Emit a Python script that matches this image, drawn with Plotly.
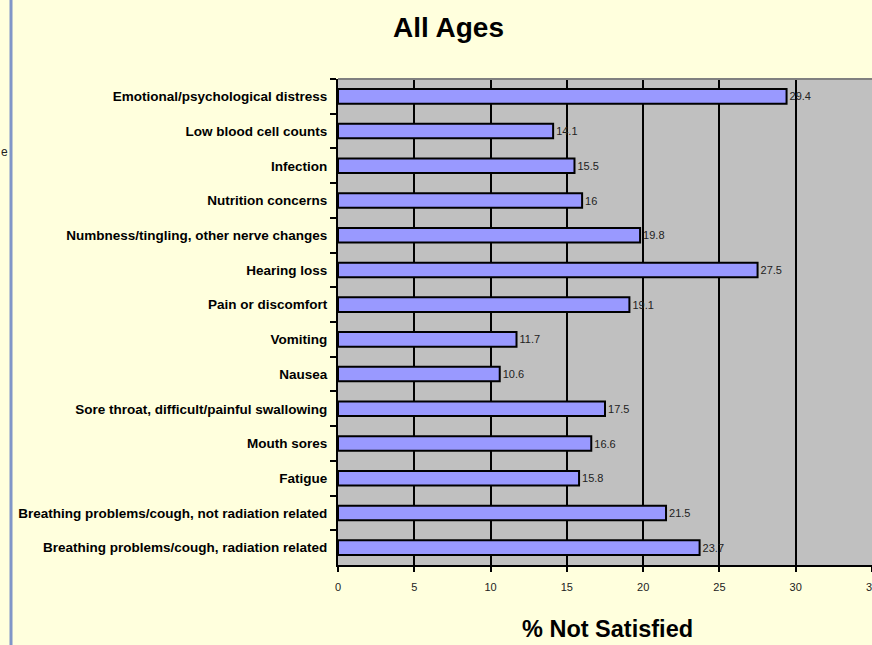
import plotly.graph_objects as go

categories = [
    "Emotional/psychological distress",
    "Low blood cell counts",
    "Infection",
    "Nutrition concerns",
    "Numbness/tingling, other nerve changes",
    "Hearing loss",
    "Pain or discomfort",
    "Vomiting",
    "Nausea",
    "Sore throat, difficult/painful swallowing",
    "Mouth sores",
    "Fatigue",
    "Breathing problems/cough, not radiation related",
    "Breathing problems/cough, radiation related",
]
values = [29.4, 14.1, 15.5, 16, 19.8, 27.5, 19.1, 11.7, 10.6, 17.5, 16.6, 15.8, 21.5, 23.7]
value_labels = ["29.4", "14.1", "15.5", "16", "19.8", "27.5", "19.1", "11.7", "10.6",
                "17.5", "16.6", "15.8", "21.5", "23.7"]
x_ticks = [0, 5, 10, 15, 20, 25, 30, 35]

W, H = 872, 645
L, R, T, B = 338, 0, 79, 80
pw = W - L - R
ph = H - T - B

def px_x(p):
    return (p - L) / pw

def px_y(p):
    return 1 - (p - T) / ph

FONT = "Liberation Sans, Arial, sans-serif"

fig = go.Figure(go.Bar(
    x=values,
    y=categories,
    orientation="h",
    marker=dict(color="#9999FF", line=dict(color="#000000", width=2)),
    text=value_labels,
    textposition="outside",
    textfont=dict(family=FONT, size=11, color="#222222"),
    cliponaxis=False,
    width=0.42,
))

fig.update_layout(
    width=W, height=H,
    margin=dict(l=L, r=R, t=T, b=B, autoexpand=False),
    paper_bgcolor="#FFFFDD",
    plot_bgcolor="#C0C0C0",
    showlegend=False,
    font=dict(family=FONT, color="#000000"),
    xaxis=dict(
        range=[0, 35],
        tickvals=x_ticks,
        ticktext=[str(v) for v in x_ticks],
        showgrid=True, gridcolor="#000000", gridwidth=1.5,
        zeroline=False,
        showline=True, linecolor="#000000", linewidth=2,
        ticks="outside", ticklen=5, tickwidth=2, tickcolor="#000000",
        tickfont=dict(family=FONT, size=11, color="#222222"),
        ticklabelstandoff=6,
        ticklabeloverflow="allow",
        automargin=False,
        fixedrange=True,
    ),
    yaxis=dict(
        autorange="reversed",
        showgrid=False,
        showline=True, linecolor="#000000", linewidth=2,
        ticks="outside", ticklen=6, tickwidth=2, tickcolor="#000000",
        tickson="boundaries",
        tickfont=dict(family=FONT, size=13.5, color="#000000", weight="bold"),
        ticklabelstandoff=6,
        automargin=False,
        fixedrange=True,
    ),
    shapes=[
        dict(type="line", xref="paper", yref="paper",
             x0=0, x1=1, y0=1, y1=1,
             line=dict(color="#808080", width=2)),
        dict(type="line", xref="paper", yref="paper",
             x0=px_x(11), x1=px_x(11), y0=px_y(0), y1=px_y(H),
             line=dict(color="#8096C8", width=3)),
    ],
    annotations=[
        dict(text="All Ages", xref="paper", yref="paper",
             x=px_x(448), y=px_y(27), showarrow=False,
             font=dict(family=FONT, size=28, color="#000000", weight="bold"),
             xanchor="center", yanchor="middle"),
        dict(text="% Not Satisfied", xref="paper", yref="paper",
             x=px_x(607), y=px_y(629), showarrow=False,
             font=dict(family=FONT, size=23.5, color="#000000", weight="bold"),
             xanchor="center", yanchor="middle"),
        dict(text="e", xref="paper", yref="paper",
             x=px_x(-1), y=px_y(152), showarrow=False,
             font=dict(family=FONT, size=12, color="#222222"),
             xanchor="left", yanchor="middle"),
    ],
)

fig.write_html(
    "out.html",
    config={"displayModeBar": False},
    post_script="document.body.style.margin='0';document.body.style.overflow='hidden';",
)
